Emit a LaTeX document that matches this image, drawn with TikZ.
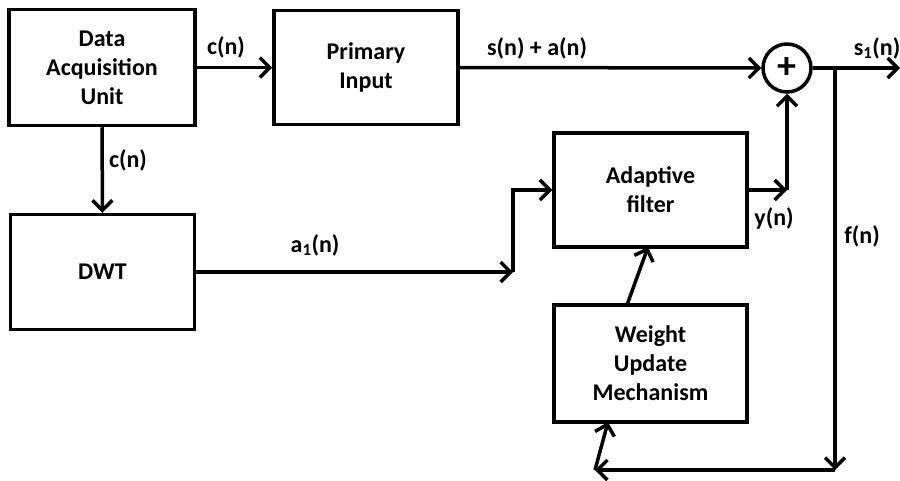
\documentclass[tikz,border=0pt]{standalone}
\usepackage{fontspec}
\setmainfont{Carlito}
\usepackage{tikz}
\usetikzlibrary{arrows.meta, positioning, shapes.geometric}

\begin{document}
\begin{tikzpicture}[
                x=1pt, y=-1pt,
                every node/.style={align=center, font=\bfseries\fontsize{24}{29}\selectfont},
                block/.style={draw, rectangle, line width=3.5pt, minimum width=186pt, minimum height=116pt},
                lbl/.style={inner sep=1pt},
                flow/.style={line width=3.5pt, -{Straight Barb[length=10pt, width=20pt, line width=3.5pt]}},
                wire/.style={line width=3.5pt}]

            \useasboundingbox (0,0) rectangle (900,480);

            % Blocs
            \node[block] (dau) at (102,67.5) {Data\\Acquisition\\Unit};
            \node[block, minimum width=184pt, minimum height=114pt] (primary) at (366,67.5) {Primary\\Input};
            \node[block, minimum width=184pt, minimum height=115pt] (dwt) at (102.5,272) {DWT};
            \node[block, minimum width=193pt, minimum height=114pt] (filter) at (650.5,190) {Adaptive\\filter};
            \node[block, minimum width=193pt, minimum height=117pt] (wum) at (650.5,363.5) {Weight\\Update\\Mechanism};
            \node[draw, circle, line width=3.5pt, minimum size=48pt, inner sep=0pt,
                  font=\bfseries\fontsize{38}{38}\selectfont] (sum) at (787,68) {+};

            % Points
            \coordinate (dc) at (513,272);
            \coordinate (yc) at (787,190);
            \coordinate (jn) at (835,68);
            \coordinate (out) at (900,68);
            \coordinate (fb) at (835,470);
            \coordinate (fl) at (595,470);
            \coordinate (wb) at (608,422);
            \coordinate (wt) at (627,305);
            \coordinate (ft) at (648,247);

            % Liaisons
            \draw[flow] (dau.east) -- (primary.west);
            \draw[flow] (dau.south) -- (dwt.north);
            \draw[flow] (primary.east) -- (sum.west);
            \draw[flow] (dwt.east) -- (dc);
            \draw[flow] (dc) |- (filter.west);
            \draw[flow] (filter.east) -- (yc);
            \draw[flow] (yc) -- (sum.south);
            \draw[flow] (sum.east) -- (out);
            \draw[flow] (jn) -- (fb);
            \draw[flow] (fb) -- (fl);
            \draw[flow] (fl) -- (wb);
            \draw[flow] (wt) -- (ft);

            % Etiquettes
            \node[lbl] (cn1) at (226,47) {c(n)};
            \node[lbl] (cn2) at (128,160) {c(n)};
            \node[lbl] (san) at (537,48) {s(n) + a(n)};
            \node[lbl] (a1n) at (315,245) {a\textsubscript{1}(n)};
            \node[lbl] (yn) at (774,218) {y(n)};
            \node[lbl] (fn) at (862,236) {f(n)};
            \node[lbl] (s1n) at (877,48) {s\textsubscript{1}(n)};

        \end{tikzpicture}
\end{document}
